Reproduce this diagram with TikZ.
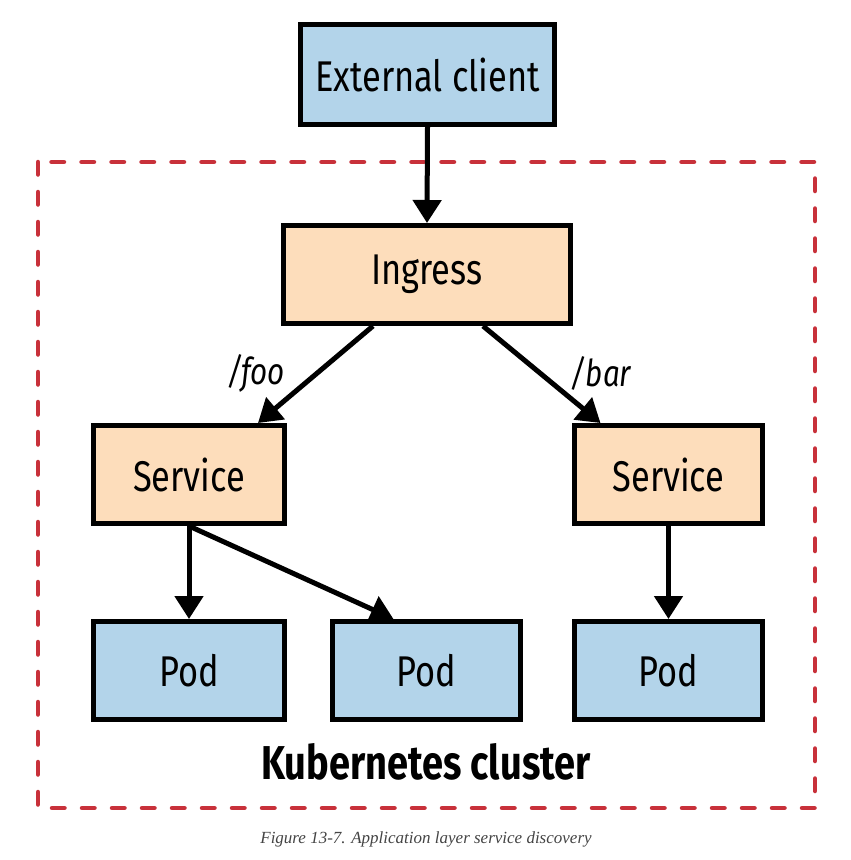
\documentclass[tikz,border=0pt]{standalone}
\usepackage{fontspec}
\setmainfont{Fira Sans}[FakeStretch=0.8]
\newfontfamily\capfont{Liberation Serif}
\usetikzlibrary{arrows.meta}
\definecolor{podblue}{HTML}{B3D4EA}
\definecolor{svcpeach}{HTML}{FDDDBB}
\definecolor{clusterred}{HTML}{C8313A}
\definecolor{capgrey}{HTML}{444444}
\begin{document}
\begin{tikzpicture}[x=1pt,y=-1pt,
		box/.style={draw=black,line width=5pt,minimum height=98pt,inner sep=0pt,font=\fontsize{43}{50}\selectfont},
		bluebox/.style={box,fill=podblue},
		peachbox/.style={box,fill=svcpeach},
		link/.style={draw=black,line width=5pt,-{Triangle[length=23pt,width=28pt]}},
		pathlabel/.style={font=\fontsize{37}{40}\selectfont\itshape}]
	\useasboundingbox (0,0) rectangle (851,860);
	\draw [clusterred,line width=4.5pt,line cap=round,dash pattern=on 12.5pt off 17.5pt] (38,162) rectangle (815,808);
	\node [bluebox,minimum width=254pt,minimum height=100pt] (client) at (427.5,74.5) {External client};
	\node [peachbox,minimum width=287pt] (ingress) at (427,274.5) {Ingress};
	\node [peachbox,minimum width=191pt] (svcfoo) at (189,474.5) {Service};
	\node [peachbox,minimum width=188pt] (svcbar) at (668.5,474.5) {Service};
	\node [bluebox,minimum width=191pt] (poda) at (189,670.5) {Pod};
	\node [bluebox,minimum width=188pt] (podb) at (426.5,670.5) {Pod};
	\node [bluebox,minimum width=188pt] (podc) at (668.5,670.5) {Pod};
	\draw [link] (client.south) -- (ingress.north);
	\draw [link] ([xshift=-54pt]ingress.south) -- ([xshift=69pt]svcfoo.north);
	\draw [link] ([xshift=56pt]ingress.south) -- ([xshift=-68pt]svcbar.north);
	\draw [link] (svcfoo.south) -- (poda.north);
	\draw [link] (svcfoo.south) -- ([xshift=-33pt]podb.north);
	\draw [link] (svcbar.south) -- (podc.north);
	\node [pathlabel] (foo) at (256,373) {/foo};
	\node [pathlabel] (bar) at (601,373) {/bar};
	\node [anchor=base,font=\fontsize{47.5}{52}\selectfont\bfseries] (cluster) at (426,779) {Kubernetes cluster};
	\node [anchor=base,text=capgrey,font=\capfont\fontsize{17}{20}\selectfont\itshape] (caption) at (426,843) {Figure 13-7. Application layer service discovery};
\end{tikzpicture}
\end{document}
